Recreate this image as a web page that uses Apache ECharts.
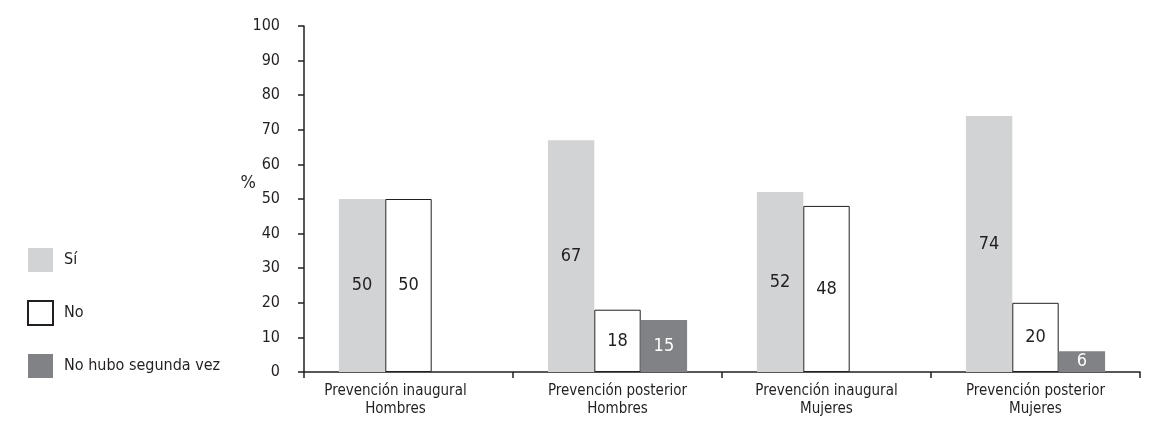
<!DOCTYPE html>
<html>
<head>
<meta charset="utf-8">
<style>
  html, body { margin: 0; padding: 0; background: #ffffff; }
  #chart { width: 1151px; height: 425px; }
</style>
<script src="https://cdn.jsdelivr.net/npm/echarts@6/dist/echarts.min.js"></script>
</head>
<body>
<div id="chart"></div>
<script>
// Categories (two-line labels) and percentages per answer
const categories = [
  'Prevención inaugural\nHombres',
  'Prevención posterior\nHombres',
  'Prevención inaugural\nMujeres',
  'Prevención posterior\nMujeres'
];
const seriesNames = ['Sí', 'No', 'No hubo segunda vez'];
const valuesSi = [50, 67, 52, 74];
const valuesNo = [50, 18, 48, 20];
const valuesNoHubo = [null, 15, null, 6];
const yTicks = { min: 0, max: 100, interval: 10 };

const FONT = '"Liberation Sans Narrow", "DejaVu Sans Condensed", "Noto Sans", sans-serif';
const INK = '#231f20';
const LIGHT = '#d1d3d4';
const DARK = '#808285';

const chart = echarts.init(document.getElementById('chart'), null, { renderer: 'canvas' });

const labelStyle = (color) => ({
  show: true,
  position: 'inside',
  color: color,
  fontFamily: FONT,
  fontSize: 18,
  formatter: (p) => p.value
});

chart.setOption({
  animation: false,
  textStyle: { fontFamily: FONT, color: INK },
  legend: {
    orient: 'vertical',
    left: 27,
    top: 248,
    padding: 0,
    itemWidth: 25,
    itemHeight: 24,
    itemGap: 28,
    textStyle: { fontFamily: FONT, fontSize: 16, color: INK, padding: [0, 0, 0, 6] },
    data: [
      { name: seriesNames[0], icon: 'rect' },
      { name: seriesNames[1], icon: 'rect', itemStyle: { color: '#ffffff', borderColor: INK, borderWidth: 2 } },
      { name: seriesNames[2], icon: 'rect' }
    ]
  },
  grid: { left: 304, right: 11, top: 26, bottom: 53, containLabel: false },
  xAxis: {
    type: 'category',
    data: categories.map((c, i) => i === 0
      ? { value: c, textStyle: { padding: [0, 26, 0, 0] } }
      : c),
    axisLine: { lineStyle: { color: INK, width: 1.5 } },
    axisTick: { show: true, length: 6, alignWithLabel: false, lineStyle: { color: INK, width: 1.5 } },
    axisLabel: { fontFamily: FONT, fontSize: 15, color: INK, lineHeight: 18, margin: 10, interval: 0 }
  },
  yAxis: {
    type: 'value',
    min: yTicks.min,
    max: yTicks.max,
    interval: yTicks.interval,
    name: '%\n ',
    nameLocation: 'middle',
    nameRotate: 0,
    nameGap: 48,
    nameMoveOverlap: false,
    nameTextStyle: { fontFamily: FONT, fontSize: 18, color: INK, lineHeight: 32 },
    splitLine: { show: false },
    axisLine: { show: true, lineStyle: { color: INK, width: 1.5 } },
    axisTick: { show: true, length: 6, lineStyle: { color: INK, width: 1.5 } },
    axisLabel: { fontFamily: FONT, fontSize: 16, color: INK, margin: 24 }
  },
  series: [
    {
      name: seriesNames[0],
      type: 'bar',
      data: valuesSi,
      barWidth: '22.2%',
      barGap: '0%',
      itemStyle: { color: LIGHT },
      label: labelStyle(INK)
    },
    {
      name: seriesNames[1],
      type: 'bar',
      data: valuesNo,
      barWidth: '22.2%',
      barGap: '0%',
      itemStyle: { color: '#ffffff', borderColor: INK, borderWidth: 1 },
      label: labelStyle(INK)
    },
    {
      name: seriesNames[2],
      type: 'bar',
      data: valuesNoHubo,
      barWidth: '22.2%',
      barGap: '0%',
      itemStyle: { color: DARK },
      label: labelStyle('#ffffff')
    }
  ]
});
</script>
</body>
</html>
